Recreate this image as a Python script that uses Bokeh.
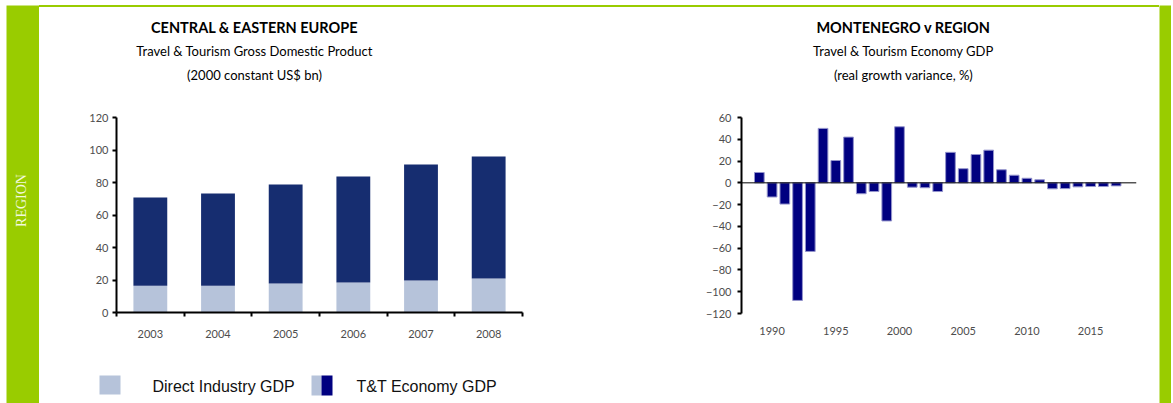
import math
from bokeh.plotting import figure
from bokeh.models import Label, BoxAnnotation, FixedTicker, Span, Range1d, ColumnDataSource, Spacer, Div
from bokeh.layouts import row, column
from bokeh.embed import file_html
from bokeh.resources import INLINE

# ---------------- data ----------------
years_left = ["2003", "2004", "2005", "2006", "2007", "2008"]
direct_gdp = [16.5, 16.5, 17.8, 18.5, 19.7, 20.9]
economy_gdp = [70.8, 73.2, 78.8, 83.7, 91.1, 96.0]
left_yticks = [0, 20, 40, 60, 80, 100, 120]

years_right = list(range(1989, 2018))
growth_var = [9.5, -13, -19.5, -108, -63, 50, 20.5, 42, -10, -8, -35, 51.5,
              -4, -4.5, -8, 28, 13, 26, 30, 12, 7, 4.2, 2.8, -5.5, -5.3,
              -3.7, -3.4, -3.4, -2.8]
right_yticks = [-120, -100, -80, -60, -40, -20, 0, 20, 40, 60]
right_xticks = [1990, 1995, 2000, 2005, 2010, 2015]

left_title = ["CENTRAL & EASTERN EUROPE", "Travel & Tourism Gross Domestic Product", "(2000 constant US$ bn)"]
right_title = ["MONTENEGRO v REGION", "Travel & Tourism Economy GDP", "(real growth variance, %)"]
legend_labels = ["Direct Industry GDP", "T&T Economy GDP"]
side_label = "REGION"

# ---------------- style ----------------
GREEN = "#99CC00"
LIGHT = "#B6C3DA"
DARK = "#162D70"
NAVY = "#000080"
FONT = "Lato"
TICK_COLOR = "#4d4d4d"


def blank(width, height, color="white"):
    f = figure(width=width, height=height, min_border=0,
               x_range=Range1d(0, width), y_range=Range1d(0, height),
               x_axis_location=None, y_axis_location=None, frame_align=False,
               output_backend="svg", toolbar_location=None)
    f.grid.visible = False
    f.outline_line_color = None
    f.background_fill_color = color
    f.border_fill_color = color
    return f


def style_common(p):
    p.grid.visible = False
    p.outline_line_color = None
    p.background_fill_color = "white"
    p.border_fill_color = "white"


def style_axis(ax):
    ax.major_label_text_font = FONT
    ax.major_label_text_font_size = "11px"
    ax.major_label_text_color = TICK_COLOR
    ax.axis_line_color = "black"
    ax.axis_line_width = 2
    ax.major_tick_line_color = "black"
    ax.major_tick_line_width = 2
    ax.major_tick_in = 0
    ax.major_tick_out = 4
    ax.minor_tick_line_color = None


def screen_box(p, l, r, b, t, color):
    p.add_layout(BoxAnnotation(left=l, right=r, bottom=b, top=t,
                               left_units="screen", right_units="screen",
                               bottom_units="screen", top_units="screen",
                               fill_color=color, fill_alpha=1, line_color=None))


def add_titles(p, lines, cx, ys):
    for i, (txt, y) in enumerate(zip(lines, ys)):
        p.add_layout(Label(x=cx, y=y, x_units="screen", y_units="screen", text=txt,
                           text_align="center", text_baseline="middle",
                           text_font=FONT, text_font_size="14.5px" if i == 0 else "13px",
                           text_font_style="bold" if i == 0 else "normal",
                           text_color="black"))


# ---------------- left chart ----------------
pos = [i + 0.5 for i in range(len(years_left))]
src = ColumnDataSource(dict(x=pos, direct=direct_gdp, total=economy_gdp))
pl = figure(width=561, height=245, x_range=Range1d(0, len(years_left)), y_range=Range1d(0, 120),
            output_backend="svg", toolbar_location=None, frame_align=False,
            min_border_left=77, min_border_right=78, min_border_top=12, min_border_bottom=38)
style_common(pl)
pl.vbar(x="x", width=0.5, bottom=0, top="direct", source=src, fill_color=LIGHT, line_color=None)
pl.vbar(x="x", width=0.5, bottom="direct", top="total", source=src, fill_color=DARK, line_color=None)

style_axis(pl.yaxis[0])
pl.yaxis.ticker = FixedTicker(ticks=left_yticks)
pl.yaxis.major_label_standoff = 4

style_axis(pl.xaxis[0])
pl.xaxis.ticker = FixedTicker(ticks=pos, minor_ticks=list(range(len(years_left) + 1)))
pl.xaxis.major_label_overrides = {p_: y for p_, y in zip(pos, years_left)}
pl.xaxis.major_tick_line_color = None
pl.xaxis.major_tick_out = 0
pl.xaxis.minor_tick_line_color = "black"
pl.xaxis.minor_tick_line_width = 2
pl.xaxis.minor_tick_in = 0
pl.xaxis.minor_tick_out = 4
pl.xaxis.major_label_standoff = 13

lt = blank(561, 98)
add_titles(lt, left_title, 215, [78, 55, 31])

# legend
lg = blank(561, 53)
screen_box(lg, 60, 81, 9, 28, LIGHT)
screen_box(lg, 272, 282, 8, 28, LIGHT)
screen_box(lg, 282, 293, 8, 28, NAVY)
for txt, sx in zip(legend_labels, [113, 317]):
    lg.add_layout(Label(x=sx, y=17, x_units="screen", y_units="screen", text=txt,
                        text_align="left", text_baseline="middle",
                        text_font="Liberation Sans", text_font_size="16px", text_color="#111111"))

# ---------------- right chart ----------------
pr = figure(width=559, height=245, x_range=Range1d(1987.6, 2018.6), y_range=Range1d(-120, 60),
            output_backend="svg", toolbar_location=None, frame_align=False,
            min_border_left=141, min_border_right=23, min_border_top=12, min_border_bottom=37)
style_common(pr)
pr.vbar(x=years_right, top=growth_var, bottom=0, width=0.76,
        fill_color=NAVY, line_color="#9494CC", line_width=1)
pr.add_layout(Span(location=0, dimension="width", line_color="black", line_width=1))

style_axis(pr.yaxis[0])
pr.yaxis.ticker = FixedTicker(ticks=right_yticks)
pr.yaxis.major_label_standoff = 6

style_axis(pr.xaxis[0])
pr.xaxis.ticker = FixedTicker(ticks=right_xticks)
pr.xaxis.axis_line_color = None
pr.xaxis.major_tick_line_color = None
pr.xaxis.major_tick_out = 0
pr.xaxis.major_label_standoff = 13

rt = blank(559, 98)
add_titles(rt, right_title, 303, [78, 55, 31])

# ---------------- frame pieces ----------------
side = blank(33, 398, GREEN)
side.add_layout(Label(x=15, y=203, x_units="screen", y_units="screen", text=side_label,
                      angle=math.pi / 2, text_align="center", text_baseline="middle",
                      text_font="Liberation Serif", text_font_size="14px", text_color="#F2F9DC"))
rstrip = blank(12, 398, GREEN)
band = Div(text="", width=1120, height=2, margin=0,
           styles={"background-color": GREEN})

layout = column(
    Spacer(width=1171, height=5),
    row(Spacer(width=6, height=398), side,
        column(band,
               row(column(lt, pl, lg),
                   column(rt, pr, Spacer(width=559, height=53)))),
        rstrip),
)

open("out.html", "w").write(file_html(layout, INLINE))
